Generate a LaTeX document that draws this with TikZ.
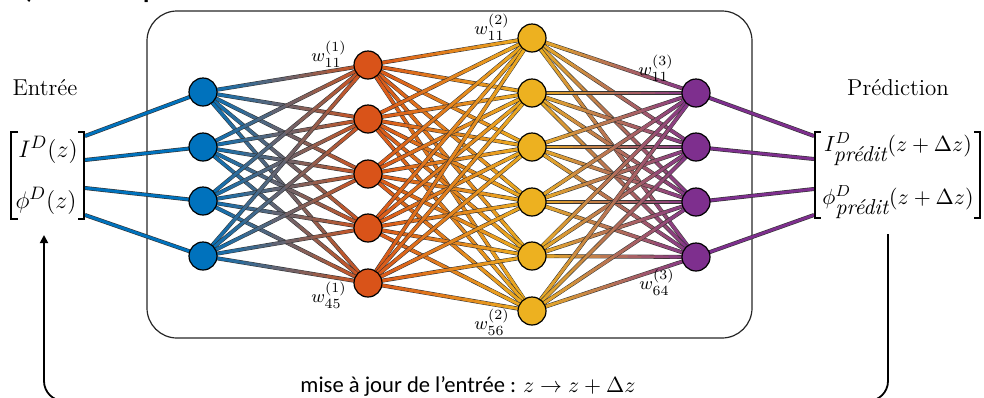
\documentclass[tikz,border=0pt]{standalone}
\usepackage{fontspec}
\newfontfamily\calib{Carlito}
\usetikzlibrary{calc,arrows.meta}
\definecolor{cA}{RGB}{0,114,189}
\definecolor{cB}{RGB}{217,83,25}
\definecolor{cC}{RGB}{237,177,32}
\definecolor{cD}{RGB}{126,47,142}
\pgfdeclarelayer{bg}
\pgfdeclarelayer{edges}
\pgfsetlayers{bg,edges,main}
\tikzset{
  neuron/.style={circle,draw=black,line width=0.6pt,minimum size=14pt,inner sep=0pt},
  edgeborder/.style={line width=2pt,draw=black!80},
  edgefill/.style={line width=1.4pt},
  brk/.style={line width=0.8pt,draw=black},
  wlab/.style={font=\fontsize{9.5}{11}\selectfont,inner sep=0pt},
  mlab/.style={font=\fontsize{13}{15}\selectfont,inner sep=0pt},
  olab/.style={font=\fontsize{10.8}{13}\selectfont,inner sep=0pt},
  tlab/.style={font=\fontsize{11.5}{14}\selectfont,inner sep=0pt},
}
\newcommand\gedge[4]{%
  \draw[edgeborder] (#1.center) -- (#2.center);
  \foreach \ii in {0,...,11}{%
    \pgfmathtruncatemacro\mixt{(\ii+0.5)*100/12}%
    \pgfmathsetmacro\ta{\ii/12}%
    \pgfmathsetmacro\tb{min(1,(\ii+1.6)/12)}%
    \draw[edgefill,color=#4!\mixt!#3] ($(#1.center)!\ta!(#2.center)$) -- ($(#1.center)!\tb!(#2.center)$);
  }}
\begin{document}
\begin{tikzpicture}[x=0.5pt,y=-0.5pt]
\useasboundingbox (0,0) rectangle (984,397);
% title (clipped at top)
\node[anchor=base west,inner sep=0pt,font=\calib\bfseries\fontsize{13}{15}\selectfont] (title) at (12,-2) {b) Phase de prédiction du réseau :};
% neurons
\foreach \n/\y in {1/92,2/147,3/201,4/256} \node[neuron,fill=cA] (i\n) at (203,\y) {};
\foreach \n/\y in {1/65,2/119,3/174,4/228,5/283} \node[neuron,fill=cB] (h\n) at (368,\y) {};
\foreach \n/\y in {1/38,2/93,3/147,4/202,5/256,6/311} \node[neuron,fill=cC] (g\n) at (532,\y) {};
\foreach \n/\y in {1/93,2/147,3/202,4/257} \node[neuron,fill=cD] (o\n) at (696,\y) {};
% bracket end points
\foreach \n/\y in {1/136,2/160,3/188,4/215} \coordinate (bi\n) at (85,\y);
\foreach \n/\y in {1/136,2/159,3/189,4/215} \coordinate (bo\n) at (814,\y);
% box
\begin{pgfonlayer}{bg}
\draw[line width=0.6pt,draw=black!85,rounded corners=15pt] (147,11) rectangle (752,338);
\end{pgfonlayer}
% edges
\begin{pgfonlayer}{edges}
\foreach \a in {1,...,4} \foreach \b in {1,...,5} {\gedge{i\a}{h\b}{cA}{cB}}
\foreach \a in {1,...,5} \foreach \b in {1,...,6} {\gedge{h\a}{g\b}{cB}{cC}}
\foreach \a in {1,...,6} \foreach \b in {1,...,4} {\gedge{g\a}{o\b}{cC}{cD}}
\foreach \n in {1,...,4} {
  \draw[edgeborder] (bi\n) -- (i\n.center);
  \draw[edgefill,cA] (bi\n) -- (i\n.center);
  \draw[edgeborder] (o\n.center) -- (bo\n);
  \draw[edgefill,cD] (o\n.center) -- (bo\n);
}
\end{pgfonlayer}
% input bracket and texts
\draw[brk] (18,132) -- (11,132) -- (11,219) -- (18,219);
\draw[brk] (78,132) -- (84,132) -- (84,219) -- (78,219);
\node[mlab] (inI) at (48,150) {$I^{D}(z)$};
\node[mlab] (inP) at (46,201) {$\phi^{D}(z)$};
\node[tlab] (entree) at (45,88) {Entrée};
% output bracket and texts
\draw[brk] (821,132) -- (815,132) -- (815,218) -- (821,218);
\draw[brk] (974,132) -- (980,132) -- (980,218) -- (974,218);
\node[olab] (outI) at (898,149) {$I^{D}_{\textit{prédit}}(z+\Delta z)$};
\node[olab] (outP) at (898,202) {$\phi^{D}_{\textit{prédit}}(z+\Delta z)$};
\node[tlab] (pred) at (898,88) {Prédiction};
% weight labels
\node[wlab] (w1a) at (329,54) {$w_{11}^{(1)}$};
\node[wlab] (w2a) at (492,27) {$w_{11}^{(2)}$};
\node[wlab] (w3a) at (656,68) {$w_{11}^{(3)}$};
\node[wlab] (w1b) at (329,295) {$w_{45}^{(1)}$};
\node[wlab] (w2b) at (492,322) {$w_{56}^{(2)}$};
\node[wlab] (w3b) at (657,282) {$w_{64}^{(3)}$};
% feedback
\coordinate (fbR) at (888,234);
\coordinate (fbL) at (44,235);
\draw[line width=0.9pt,rounded corners=10pt,-{Triangle[length=4pt,width=4pt]}] (fbR) -- (888,401) -- (44,401) -- (fbL);
\node[inner sep=0pt,font=\calib\fontsize{11.3}{14}\selectfont] (fbtext) at (468,386) {mise à jour de l’entrée : $z\rightarrow z+\Delta z$};
\end{tikzpicture}
\end{document}
